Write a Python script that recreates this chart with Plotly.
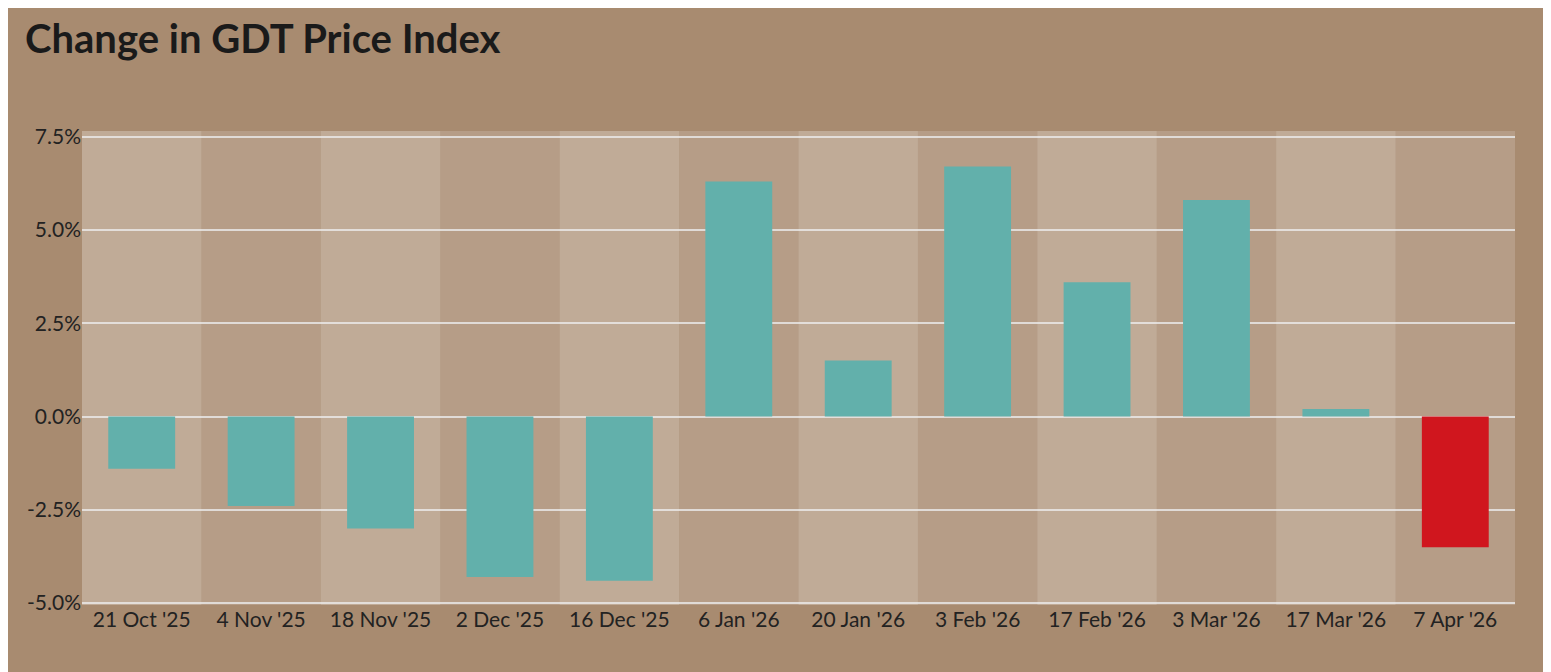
import plotly.graph_objects as go

dates = ["21 Oct '25", "4 Nov '25", "18 Nov '25", "2 Dec '25", "16 Dec '25", "6 Jan '26",
         "20 Jan '26", "3 Feb '26", "17 Feb '26", "3 Mar '26", "17 Mar '26", "7 Apr '26"]
change = [-1.4, -2.4, -3.0, -4.3, -4.4, 6.3, 1.5, 6.7, 3.6, 5.8, 0.2, -3.5]
colors = ["#62b0ab"] * 11 + ["#d0161e"]

fig = go.Figure()
fig.add_trace(go.Bar(x=dates, y=change, marker=dict(color=colors, line=dict(width=0)), width=0.56))

# light bands behind each category
for i in range(len(dates)):
    fig.add_shape(type="rect", xref="x", yref="paper", x0=i - 0.5, x1=i + 0.5, y0=0, y1=1,
                  fillcolor="rgba(255,255,255,%s)" % (0.28 if i % 2 == 0 else 0.16),
                  line=dict(width=0), layer="below")

fig.update_layout(
    width=1551, height=672,
    paper_bgcolor="#a88b70", plot_bgcolor="rgba(0,0,0,0)",
    margin=dict(l=74, r=44, t=123, b=75),
    title=dict(text="<b>Change in GDT Price Index</b>", x=0.011, y=0.975, xanchor="left",
               font=dict(family="Lato", size=40, color="#1a1a1a")),
    font=dict(family="Lato", size=21, color="#222"),
    showlegend=False, bargap=0.44,
    xaxis=dict(showgrid=False, tickfont=dict(size=21), ticks=""),
    yaxis=dict(range=[-5.05, 7.65], tickvals=[-5, -2.5, 0, 2.5, 5, 7.5],
               ticktext=["-5.0%", "-2.5%", "0.0%", "2.5%", "5.0%", "7.5%"],
               gridcolor="rgba(235,235,235,0.8)", gridwidth=1.5, zeroline=False,
               tickfont=dict(size=21)),
)
fig.write_html("out.html")
